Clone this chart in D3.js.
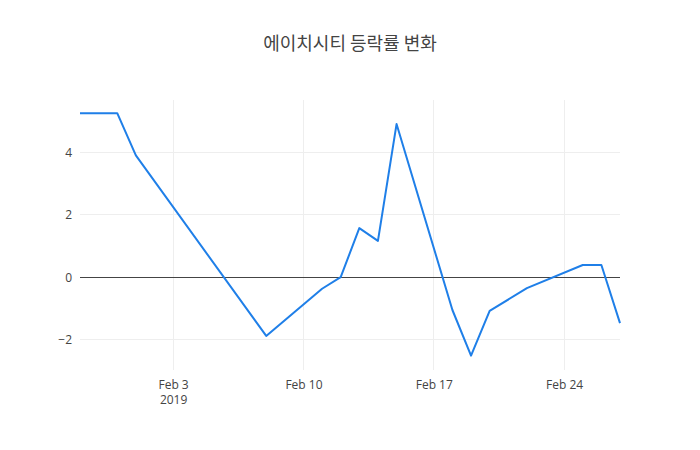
<!DOCTYPE html>
<html><head><meta charset="utf-8">
<script src="https://cdn.jsdelivr.net/npm/d3@7"></script>
<style>body{margin:0;background:#fff}svg{display:block}</style>
</head><body>
<svg id="c" width="700" height="450"></svg>
<script>
const title = "에이치시티 등락률 변화";
const dates = ["2019-01-29","2019-01-30","2019-01-31","2019-02-01","2019-02-08","2019-02-11","2019-02-12","2019-02-13","2019-02-14","2019-02-15","2019-02-18","2019-02-19","2019-02-20","2019-02-22","2019-02-25","2019-02-26","2019-02-27"];
const values = [5.25,5.25,5.25,3.9,-1.88,-0.37,0.0,1.57,1.16,4.9,-1.05,-2.51,-1.08,-0.35,0.39,0.39,-1.47];
const yTicks = [-2,0,2,4];
const xTickDates = ["2019-02-03","2019-02-10","2019-02-17","2019-02-24"];
const xTickLabels = ["Feb 3","Feb 10","Feb 17","Feb 24"];

const parse = d3.timeParse("%Y-%m-%d");
const data = dates.map((d,i)=>({x:parse(d), y:values[i]}));
const m = {l:80,r:80,t:100,b:80}, W=700, H=450;
const svg = d3.select("#c");
const font = "'Open Sans', verdana, arial, sans-serif";

const x = d3.scaleTime().domain(d3.extent(data,d=>d.x)).range([m.l, W-m.r]);
const y = d3.scaleLinear().domain([-2.97,5.67]).range([H-m.b, m.t]);

const g = svg.append("g").attr("shape-rendering","crispEdges");
// grid
g.selectAll(".gx").data(xTickDates.map(parse)).join("line")
  .attr("x1",d=>x(d)).attr("x2",d=>x(d)).attr("y1",m.t).attr("y2",H-m.b)
  .attr("stroke","#eee").attr("stroke-width",1);
g.selectAll(".gy").data(yTicks.filter(v=>v!==0)).join("line")
  .attr("x1",m.l).attr("x2",W-m.r).attr("y1",d=>y(d)).attr("y2",d=>y(d))
  .attr("stroke","#eee").attr("stroke-width",1);
// zero line
g.append("line").attr("x1",m.l).attr("x2",W-m.r).attr("y1",y(0)).attr("y2",y(0))
  .attr("stroke","#444").attr("stroke-width",1);

// y axis labels
const yAxis = d3.axisLeft(y).tickValues(yTicks).tickSize(0).tickPadding(8)
  .tickFormat(d=>d<0?"\u2212"+Math.abs(d):String(d));
const ya = svg.append("g").attr("transform",`translate(${m.l},0)`).call(yAxis);
ya.select(".domain").remove();
ya.selectAll("text").attr("font-family",font).attr("font-size",12).attr("fill","#444");

// x axis labels
const xAxis = d3.axisBottom(x).tickValues(xTickDates.map(parse)).tickSize(0).tickPadding(10)
  .tickFormat((d,i)=>xTickLabels[i]);
const xa = svg.append("g").attr("transform",`translate(0,${H-m.b})`).call(xAxis);
xa.select(".domain").remove();
xa.selectAll("text").attr("font-family",font).attr("font-size",12).attr("fill","#444");
xa.select(".tick text").append("tspan").attr("x",0).attr("dy","1.3em").text("2019");

// line
const line = d3.line().x(d=>x(d.x)).y(d=>y(d.y));
svg.append("path").datum(data).attr("d",line).attr("fill","none")
  .attr("stroke","#1f7fe8").attr("stroke-width",2).attr("stroke-linejoin","round");

// title
svg.append("text").attr("x",W/2).attr("y",50).attr("text-anchor","middle")
  .attr("font-family","'Noto Sans CJK KR', "+font).attr("font-size",18).attr("fill","#444").text(title);
</script>
</body></html>
